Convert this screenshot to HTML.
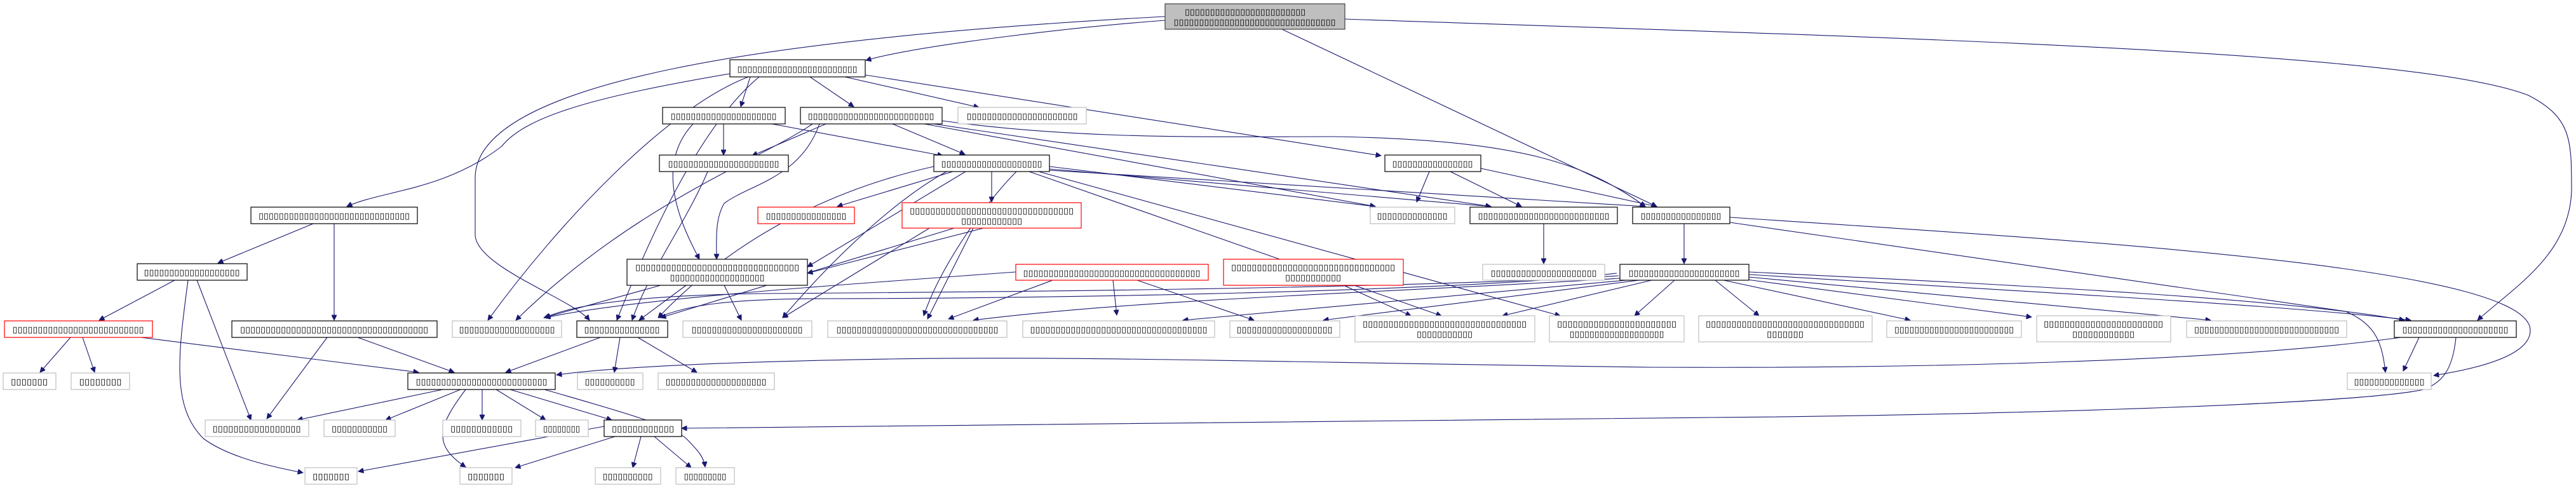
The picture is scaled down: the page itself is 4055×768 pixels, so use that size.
<!DOCTYPE html>
<html><head><meta charset="utf-8"><style>
html,body{margin:0;padding:0;background:#fff}
svg{display:block}
rect{fill:#fff;stroke:#000;stroke-width:1.2}
rect.g{stroke:#bfbfbf}
rect.r{stroke:#ff0000}
rect.root{fill:#bfbfbf;stroke:#404040}
text{font-family:"DejaVu Sans","Liberation Sans",sans-serif;font-size:13px;fill:#000;text-anchor:middle}
path{fill:none;stroke:#191970;stroke-width:1.1}
</style></head><body>
<svg width="4055" height="768" viewBox="0 0 4055 768" xmlns="http://www.w3.org/2000/svg">
<defs><marker id="a" viewBox="0 0 10 10" refX="10" refY="5" markerWidth="10" markerHeight="8" markerUnits="userSpaceOnUse" orient="auto"><path d="M0,0 L10,5 L0,10 z" style="fill:#191970;stroke:#191970"/></marker></defs>
<g marker-end="url(#a)">
<path d="M1834 32 C1700 42 1450 70 1363 95"/>
<path d="M1834 26 C1200 60 748 130 748 280 L748 370 C750 420 900 470 928 504"/>
<path d="M2018 46 L2608 325"/>
<path d="M2117 30 C3000 60 3800 80 3980 150 C4048 185 4048 220 4048 300 C4045 400 3960 450 3900 504"/>
<path d="M1181 121 L1166 168"/>
<path d="M1275 121 L1344 168"/>
<path d="M1330 121 L1541 169"/>
<path d="M1362 118 L2174 245"/>
<path d="M1149 116 C950 150 830 180 790 230 C700 300 600 300 546 325"/>
<path d="M1178 121 C1050 170 880 350 768 504"/>
<path d="M1195 121 C1100 200 1020 380 971 504"/>
<path d="M1139 195 L1139 244"/>
<path d="M1091 195 C1030 260 1070 350 1101 408"/>
<path d="M1215 195 L1484 245"/>
<path d="M1300 195 L1184 245"/>
<path d="M1405 195 L1519 243"/>
<path d="M1455 195 L2165 325"/>
<path d="M1470 195 L2347 325"/>
<path d="M1483 190 C1700 220 1900 215 2100 215 C2400 220 2500 260 2590 325"/>
<path d="M1290 195 C1260 280 1180 290 1140 320 C1125 345 1128 380 1128 408"/>
<path d="M1279 195 C1200 250 1000 320 812 504"/>
<path d="M1114 270 C1080 350 1020 430 995 504"/>
<path d="M1500 270 L1318 325"/>
<path d="M1561 270 L1561 318"/>
<path d="M1652 262 L2165 325"/>
<path d="M1652 266 L2347 325"/>
<path d="M1652 268 L2590 325"/>
<path d="M1470 262 C1300 300 1150 380 1036 500"/>
<path d="M1490 270 C1400 320 1300 420 1232 500"/>
<path d="M1620 270 L2269 497"/>
<path d="M1600 270 C1550 320 1480 420 1454 497"/>
<path d="M1635 270 L2456 497"/>
<path d="M1520 270 L1271 420"/>
<path d="M2250 270 L2230 318"/>
<path d="M2283 270 L2395 325"/>
<path d="M2331 265 L2608 325"/>
<path d="M1463 359 L1232 500"/>
<path d="M1502 359 L1040 500"/>
<path d="M1532 359 L1460 502"/>
<path d="M1548 359 L1271 430"/>
<path d="M1040 449 L856 500"/>
<path d="M1080 449 L1006 504"/>
<path d="M1140 449 L1167 504"/>
<path d="M493 352 L343 414"/>
<path d="M526 352 L526 504"/>
<path d="M275 441 L156 504"/>
<path d="M310 441 L395 661"/>
<path d="M296 441 C280 560 270 640 320 690 C360 720 430 735 477 744"/>
<path d="M111 531 L63 586"/>
<path d="M130 531 L149 586"/>
<path d="M222 531 L659 586"/>
<path d="M515 531 L420 659"/>
<path d="M563 531 L715 586"/>
<path d="M945 531 L796 586"/>
<path d="M976 531 L967 586"/>
<path d="M1004 531 L1097 586"/>
<path d="M697 613 L468 661"/>
<path d="M725 613 L607 661"/>
<path d="M733 613 C690 670 680 700 733 735"/>
<path d="M759 613 L759 661"/>
<path d="M781 613 L859 661"/>
<path d="M803 613 L963 661"/>
<path d="M857 613 C950 640 1060 670 1080 690 C1100 710 1108 720 1110 735"/>
<path d="M951 671 L564 742"/>
<path d="M968 687 L811 736"/>
<path d="M1009 687 L996 736"/>
<path d="M1030 687 L1088 736"/>
<path d="M3779 531 C3500 570 3000 580 2600 578 C2000 570 1700 560 1400 565 C1100 570 950 580 876 590"/>
<path d="M3866 531 C3860 590 3840 600 3820 612 C3700 640 3000 655 2695 657 C2000 665 1500 670 1073 674"/>
<path d="M3808 531 L3783 584"/>
<path d="M2651 352 L2651 415"/>
<path d="M2723 350 L3692 490 C3740 510 3750 540 3755 586"/>
<path d="M2723 342 C3300 380 3983 420 3983 520 C3983 560 3900 580 3831 591"/>
<path d="M2430 352 L2430 415"/>
<path d="M1657 441 L1493 502"/>
<path d="M1752 441 L1758 496"/>
<path d="M1790 441 L1974 504"/>
<path d="M1599 428 C1300 450 1000 470 858 500"/>
<path d="M2115 449 L2221 497"/>
<path d="M2600 441 L2365 497"/>
<path d="M2636 441 L2573 497"/>
<path d="M2700 441 L2769 497"/>
<path d="M2713 441 L3007 504"/>
<path d="M2750 440 L3198 499"/>
<path d="M2753 436 L3480 504"/>
<path d="M2753 428 C3200 450 3600 470 3785 504"/>
<path d="M2753 432 C3200 460 3600 480 3795 504"/>
<path d="M2550 438 C2200 460 1800 470 1532 504"/>
<path d="M2560 441 L1862 504"/>
<path d="M2580 441 L2083 504"/>
<path d="M2545 430 C2300 460 1600 470 1300 470 C1150 470 1080 480 1036 500"/>
<path d="M2548 434 C2200 455 1500 460 1200 462 C1000 465 900 480 858 500"/>
</g>

<rect class="root" x="1834" y="6" width="283" height="40"/>
<text x="1960" y="23" textLength="190" lengthAdjust="spacingAndGlyphs">▯▯▯▯▯▯▯▯▯▯▯▯▯▯▯▯▯▯▯▯▯▯▯▯</text>
<text x="1975" y="39" textLength="255" lengthAdjust="spacingAndGlyphs">▯▯▯▯▯▯▯▯▯▯▯▯▯▯▯▯▯▯▯▯▯▯▯▯▯▯▯▯▯▯▯▯</text>

<rect x="1149" y="94" width="213" height="27"/><text x="1255" y="113" textLength="189" lengthAdjust="spacingAndGlyphs">▯▯▯▯▯▯▯▯▯▯▯▯▯▯▯▯▯▯▯▯▯▯▯▯</text>
<rect x="1043" y="169" width="193" height="26"/><text x="1139" y="187" textLength="167" lengthAdjust="spacingAndGlyphs">▯▯▯▯▯▯▯▯▯▯▯▯▯▯▯▯▯▯▯▯▯</text>
<rect x="1260" y="169" width="223" height="26"/><text x="1371" y="187" textLength="199" lengthAdjust="spacingAndGlyphs">▯▯▯▯▯▯▯▯▯▯▯▯▯▯▯▯▯▯▯▯▯▯▯▯▯</text>
<rect class="g" x="1508" y="169" width="202" height="26"/><text x="1609" y="187" textLength="175" lengthAdjust="spacingAndGlyphs">▯▯▯▯▯▯▯▯▯▯▯▯▯▯▯▯▯▯▯▯▯▯</text>
<rect x="1038" y="244" width="203" height="26"/><text x="1139" y="262" textLength="175" lengthAdjust="spacingAndGlyphs">▯▯▯▯▯▯▯▯▯▯▯▯▯▯▯▯▯▯▯▯▯▯</text>
<rect x="1470" y="244" width="182" height="26"/><text x="1561" y="262" textLength="159" lengthAdjust="spacingAndGlyphs">▯▯▯▯▯▯▯▯▯▯▯▯▯▯▯▯▯▯▯▯</text>
<rect x="2180" y="244" width="151" height="26"/><text x="2255" y="262" textLength="127" lengthAdjust="spacingAndGlyphs">▯▯▯▯▯▯▯▯▯▯▯▯▯▯▯▯</text>

<rect x="395" y="326" width="262" height="26"/><text x="526" y="344" textLength="238" lengthAdjust="spacingAndGlyphs">▯▯▯▯▯▯▯▯▯▯▯▯▯▯▯▯▯▯▯▯▯▯▯▯▯▯▯▯▯▯</text>
<rect class="r" x="1193" y="326" width="152" height="26"/><text x="1269" y="344" textLength="127" lengthAdjust="spacingAndGlyphs">▯▯▯▯▯▯▯▯▯▯▯▯▯▯▯▯</text>
<rect class="r" x="1420" y="319" width="282" height="40"/><text x="1561" y="336" textLength="258" lengthAdjust="spacingAndGlyphs">▯▯▯▯▯▯▯▯▯▯▯▯▯▯▯▯▯▯▯▯▯▯▯▯▯▯▯▯▯▯▯▯</text><text x="1561" y="352" textLength="96" lengthAdjust="spacingAndGlyphs">▯▯▯▯▯▯▯▯▯▯▯▯</text>
<rect class="g" x="2157" y="326" width="133" height="26"/><text x="2223" y="344" textLength="111" lengthAdjust="spacingAndGlyphs">▯▯▯▯▯▯▯▯▯▯▯▯▯▯</text>
<rect x="2314" y="326" width="232" height="26"/><text x="2430" y="344" textLength="207" lengthAdjust="spacingAndGlyphs">▯▯▯▯▯▯▯▯▯▯▯▯▯▯▯▯▯▯▯▯▯▯▯▯▯▯</text>
<rect x="2570" y="326" width="153" height="26"/><text x="2646" y="344" textLength="127" lengthAdjust="spacingAndGlyphs">▯▯▯▯▯▯▯▯▯▯▯▯▯▯▯▯</text>

<rect x="216" y="415" width="173" height="26"/><text x="302" y="433" textLength="151" lengthAdjust="spacingAndGlyphs">▯▯▯▯▯▯▯▯▯▯▯▯▯▯▯▯▯▯▯</text>
<rect x="987" y="408" width="284" height="41"/><text x="1129" y="425" textLength="258" lengthAdjust="spacingAndGlyphs">▯▯▯▯▯▯▯▯▯▯▯▯▯▯▯▯▯▯▯▯▯▯▯▯▯▯▯▯▯▯▯▯</text><text x="1129" y="441" textLength="149" lengthAdjust="spacingAndGlyphs">▯▯▯▯▯▯▯▯▯▯▯▯▯▯▯▯▯▯▯</text>
<rect class="r" x="1599" y="416" width="303" height="25"/><text x="1750" y="434" textLength="279" lengthAdjust="spacingAndGlyphs">▯▯▯▯▯▯▯▯▯▯▯▯▯▯▯▯▯▯▯▯▯▯▯▯▯▯▯▯▯▯▯▯▯▯▯</text>
<rect class="r" x="1926" y="408" width="283" height="41"/><text x="2067" y="425" textLength="258" lengthAdjust="spacingAndGlyphs">▯▯▯▯▯▯▯▯▯▯▯▯▯▯▯▯▯▯▯▯▯▯▯▯▯▯▯▯▯▯▯▯</text><text x="2067" y="441" textLength="88" lengthAdjust="spacingAndGlyphs">▯▯▯▯▯▯▯▯▯▯▯</text>
<rect class="g" x="2334" y="416" width="192" height="25"/><text x="2430" y="434" textLength="167" lengthAdjust="spacingAndGlyphs">▯▯▯▯▯▯▯▯▯▯▯▯▯▯▯▯▯▯▯▯▯</text>
<rect x="2550" y="416" width="203" height="25"/><text x="2651" y="434" textLength="175" lengthAdjust="spacingAndGlyphs">▯▯▯▯▯▯▯▯▯▯▯▯▯▯▯▯▯▯▯▯▯▯</text>

<rect class="r" x="7" y="505" width="233" height="26"/><text x="123" y="523" textLength="207" lengthAdjust="spacingAndGlyphs">▯▯▯▯▯▯▯▯▯▯▯▯▯▯▯▯▯▯▯▯▯▯▯▯▯▯</text>
<rect x="365" y="505" width="323" height="26"/><text x="526" y="523" textLength="296" lengthAdjust="spacingAndGlyphs">▯▯▯▯▯▯▯▯▯▯▯▯▯▯▯▯▯▯▯▯▯▯▯▯▯▯▯▯▯▯▯▯▯▯▯▯▯</text>
<rect class="g" x="712" y="505" width="172" height="26"/><text x="798" y="523" textLength="151" lengthAdjust="spacingAndGlyphs">▯▯▯▯▯▯▯▯▯▯▯▯▯▯▯▯▯▯▯</text>
<rect x="908" y="505" width="143" height="26"/><text x="979" y="523" textLength="119" lengthAdjust="spacingAndGlyphs">▯▯▯▯▯▯▯▯▯▯▯▯▯▯▯</text>
<rect class="g" x="1075" y="505" width="203" height="26"/><text x="1176" y="523" textLength="175" lengthAdjust="spacingAndGlyphs">▯▯▯▯▯▯▯▯▯▯▯▯▯▯▯▯▯▯▯▯▯▯</text>
<rect class="g" x="1303" y="505" width="282" height="26"/><text x="1444" y="523" textLength="255" lengthAdjust="spacingAndGlyphs">▯▯▯▯▯▯▯▯▯▯▯▯▯▯▯▯▯▯▯▯▯▯▯▯▯▯▯▯▯▯▯▯</text>
<rect class="g" x="1610" y="505" width="302" height="26"/><text x="1761" y="523" textLength="279" lengthAdjust="spacingAndGlyphs">▯▯▯▯▯▯▯▯▯▯▯▯▯▯▯▯▯▯▯▯▯▯▯▯▯▯▯▯▯▯▯▯▯▯▯</text>
<rect class="g" x="1936" y="505" width="173" height="26"/><text x="2022" y="523" textLength="151" lengthAdjust="spacingAndGlyphs">▯▯▯▯▯▯▯▯▯▯▯▯▯▯▯▯▯▯▯</text>
<rect class="g" x="2133" y="497" width="283" height="41"/><text x="2274" y="514" textLength="258" lengthAdjust="spacingAndGlyphs">▯▯▯▯▯▯▯▯▯▯▯▯▯▯▯▯▯▯▯▯▯▯▯▯▯▯▯▯▯▯▯▯</text><text x="2274" y="530" textLength="88" lengthAdjust="spacingAndGlyphs">▯▯▯▯▯▯▯▯▯▯▯</text>
<rect class="g" x="2439" y="497" width="212" height="41"/><text x="2545" y="514" textLength="188" lengthAdjust="spacingAndGlyphs">▯▯▯▯▯▯▯▯▯▯▯▯▯▯▯▯▯▯▯▯▯▯▯</text><text x="2545" y="530" textLength="149" lengthAdjust="spacingAndGlyphs">▯▯▯▯▯▯▯▯▯▯▯▯▯▯▯▯▯▯▯</text>
<rect class="g" x="2674" y="497" width="273" height="41"/><text x="2810" y="514" textLength="250" lengthAdjust="spacingAndGlyphs">▯▯▯▯▯▯▯▯▯▯▯▯▯▯▯▯▯▯▯▯▯▯▯▯▯▯▯▯▯▯▯</text><text x="2810" y="530" textLength="58" lengthAdjust="spacingAndGlyphs">▯▯▯▯▯▯▯</text>
<rect class="g" x="2970" y="505" width="212" height="26"/><text x="3076" y="523" textLength="188" lengthAdjust="spacingAndGlyphs">▯▯▯▯▯▯▯▯▯▯▯▯▯▯▯▯▯▯▯▯▯▯▯▯</text>
<rect class="g" x="3206" y="497" width="211" height="41"/><text x="3311" y="514" textLength="188" lengthAdjust="spacingAndGlyphs">▯▯▯▯▯▯▯▯▯▯▯▯▯▯▯▯▯▯▯▯▯▯▯</text><text x="3311" y="530" textLength="98" lengthAdjust="spacingAndGlyphs">▯▯▯▯▯▯▯▯▯▯▯▯</text>
<rect class="g" x="3442" y="505" width="252" height="26"/><text x="3568" y="523" textLength="228" lengthAdjust="spacingAndGlyphs">▯▯▯▯▯▯▯▯▯▯▯▯▯▯▯▯▯▯▯▯▯▯▯▯▯▯▯▯▯</text>
<rect x="3769" y="505" width="192" height="26"/><text x="3865" y="523" textLength="167" lengthAdjust="spacingAndGlyphs">▯▯▯▯▯▯▯▯▯▯▯▯▯▯▯▯▯▯▯▯▯</text>

<rect class="g" x="5" y="587" width="83" height="26"/><text x="46" y="605" textLength="58" lengthAdjust="spacingAndGlyphs">▯▯▯▯▯▯▯</text>
<rect class="g" x="112" y="587" width="92" height="26"/><text x="158" y="605" textLength="67" lengthAdjust="spacingAndGlyphs">▯▯▯▯▯▯▯▯</text>
<rect x="642" y="587" width="232" height="26"/><text x="758" y="605" textLength="207" lengthAdjust="spacingAndGlyphs">▯▯▯▯▯▯▯▯▯▯▯▯▯▯▯▯▯▯▯▯▯▯▯▯▯▯</text>
<rect class="g" x="909" y="587" width="103" height="26"/><text x="960" y="605" textLength="79" lengthAdjust="spacingAndGlyphs">▯▯▯▯▯▯▯▯▯▯</text>
<rect class="g" x="1036" y="587" width="183" height="26"/><text x="1127" y="605" textLength="159" lengthAdjust="spacingAndGlyphs">▯▯▯▯▯▯▯▯▯▯▯▯▯▯▯▯▯▯▯▯</text>
<rect class="g" x="3695" y="587" width="132" height="26"/><text x="3761" y="605" textLength="111" lengthAdjust="spacingAndGlyphs">▯▯▯▯▯▯▯▯▯▯▯▯▯▯</text>

<rect class="g" x="323" y="661" width="163" height="26"/><text x="404" y="679" textLength="139" lengthAdjust="spacingAndGlyphs">▯▯▯▯▯▯▯▯▯▯▯▯▯▯▯▯▯</text>
<rect class="g" x="510" y="661" width="112" height="26"/><text x="566" y="679" textLength="88" lengthAdjust="spacingAndGlyphs">▯▯▯▯▯▯▯▯▯▯▯</text>
<rect class="g" x="697" y="661" width="123" height="26"/><text x="758" y="679" textLength="98" lengthAdjust="spacingAndGlyphs">▯▯▯▯▯▯▯▯▯▯▯▯</text>
<rect class="g" x="843" y="661" width="83" height="26"/><text x="884" y="679" textLength="58" lengthAdjust="spacingAndGlyphs">▯▯▯▯▯▯▯▯</text>
<rect x="951" y="661" width="122" height="26"/><text x="1012" y="679" textLength="98" lengthAdjust="spacingAndGlyphs">▯▯▯▯▯▯▯▯▯▯▯▯</text>

<rect class="g" x="480" y="736" width="82" height="26"/><text x="521" y="754" textLength="58" lengthAdjust="spacingAndGlyphs">▯▯▯▯▯▯▯</text>
<rect class="g" x="724" y="736" width="82" height="26"/><text x="765" y="754" textLength="58" lengthAdjust="spacingAndGlyphs">▯▯▯▯▯▯▯</text>
<rect class="g" x="937" y="736" width="103" height="26"/><text x="988" y="754" textLength="79" lengthAdjust="spacingAndGlyphs">▯▯▯▯▯▯▯▯▯▯</text>
<rect class="g" x="1064" y="736" width="92" height="26"/><text x="1110" y="754" textLength="67" lengthAdjust="spacingAndGlyphs">▯▯▯▯▯▯▯▯▯</text>
</svg>
</body></html>
